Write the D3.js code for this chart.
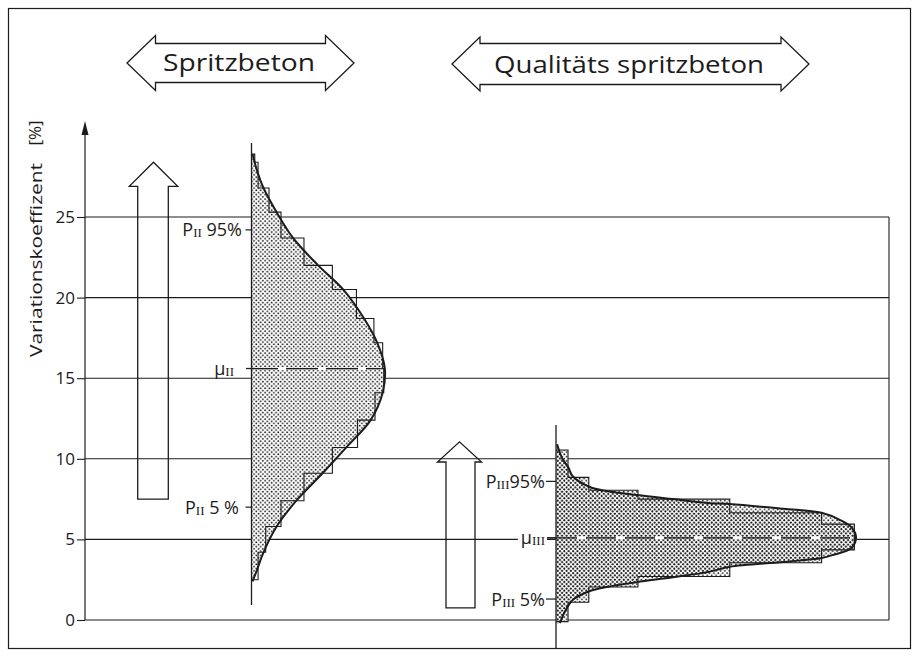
<!DOCTYPE html>
<html><head><meta charset="utf-8">
<script src="https://cdn.jsdelivr.net/npm/d3@7"></script>
<style>html,body{margin:0;padding:0;background:#fff;} svg{display:block;}</style>
</head><body>
<script>
// ---------- data ----------
const yTicks = [0, 5, 10, 15, 20, 25];
const headerLabels = ["Spritzbeton", "Qualitäts spritzbeton"];
const yTitle = "Variationskoeffizent";
const yUnit = "[%]";

// left histogram (Spritzbeton): class edges in % and relative frequency
const leftEdges = [2.5, 4.2, 5.8, 7.4, 9.1, 10.7, 12.4, 14.1, 15.6, 17.2, 18.7, 20.5, 22.0, 23.7, 25.3, 26.8, 28.4, 28.9];
const leftFreq  = [0.6, 1.3, 2.7, 4.8, 7.4, 9.7, 11.3, 12.1, 12.0, 11.2, 9.6, 7.4, 4.8, 2.7, 1.6, 0.6, 0.3];
const leftCurveV = [28.9, 27.9, 26.8, 25.3, 23.7, 22.0, 20.5, 18.7, 17.2, 15.6, 14.1, 12.4, 10.8, 9.1, 7.4, 5.8, 4.2, 3.1, 2.4];
const leftCurveF = [0.1, 0.5, 1.1, 2.3, 3.8, 6.1, 8.4, 10.3, 11.5, 12.2, 12.0, 10.9, 8.8, 6.5, 4.1, 2.3, 1.1, 0.5, 0.1];

// right histogram (Qualitätsspritzbeton)
const rightEdges = [-0.1, 1.1, 2.05, 2.7, 3.55, 4.35, 5.95, 6.65, 7.5, 8.05, 8.85, 10.55];
const rightFreq  = [1.1, 3.0, 7.5, 15.9, 24.3, 27.3, 24.3, 15.9, 7.5, 3.0, 1.1];
const rightCurveV = [10.9, 10.05, 9.5, 8.9, 8.25, 8.0, 7.75, 7.5, 7.25, 7.2, 6.9, 6.65, 6.2, 5.7, 5.1, 4.45, 4.05, 3.85, 3.6, 3.3, 3.0, 2.65, 2.35, 2.05, 1.8, 1.25, 0.5, -0.2];
const rightCurveF = [0.1, 0.55, 1.1, 1.55, 3.1, 4.65, 7.4, 10.7, 14.1, 15.9, 20.8, 24.3, 26.0, 27.1, 27.45, 27.0, 25.4, 24.3, 20.8, 15.9, 14.1, 10.7, 7.4, 4.65, 3.1, 1.55, 0.8, 0.35];

// quantile markers
const leftMarkV  = [24.2, 15.6, 7.0];
const rightMarkV = [8.6, 5.1, 1.3];
const leftMarkLabels  = [["P", "II", " 95%"], ["μ", "II", ""], ["P", "II", " 5 %"]];
const rightMarkLabels = [["P", "III", "95%"], ["μ", "III", ""], ["P", "III", " 5%"]];

// hollow arrows: [bottom, head base, tip] in %
const bigArrowV   = [7.5, 26.9, 28.4];
const smallArrowV = [0.75, 9.8, 11.05];

// ---------- layout ----------
const W = 915, H = 664;
const ink = "#1c1c1c";
const axisX = 85, gridRight = 889, baseL = 251.5, baseR = 556;
const font = "'Open Sans', 'DejaVu Sans', sans-serif";
const serif = "'Liberation Serif', 'DejaVu Serif', serif";

const svg = d3.select("body").append("svg").attr("width", W).attr("height", H);
const y = d3.scaleLinear().domain([0, 25]).range([620, 217]);
const fx = d3.scaleLinear().domain([0, 10]).range([0, 109.3]);

// dot pattern
const defs = svg.append("defs");
const pat = defs.append("pattern").attr("id", "dots").attr("patternUnits", "userSpaceOnUse")
  .attr("width", 4.4).attr("height", 4.4);
pat.append("circle").attr("cx", 1.1).attr("cy", 1.1).attr("r", 0.92).attr("fill", "#1a1a1a");
pat.append("circle").attr("cx", 3.3).attr("cy", 3.3).attr("r", 0.92).attr("fill", "#1a1a1a");

// frame
svg.append("rect").attr("x", 8.5).attr("y", 8.5).attr("width", 902).attr("height", 640)
  .attr("fill", "none").attr("stroke", ink).attr("stroke-width", 1.2);

// gridlines
const grid = svg.append("g");
grid.selectAll("line.g").data(yTicks).join("line")
  .attr("x1", axisX).attr("x2", gridRight)
  .attr("y1", d => y(d)).attr("y2", d => y(d))
  .attr("stroke", ink).attr("stroke-width", 1.1);
grid.append("line").attr("x1", gridRight).attr("x2", gridRight)
  .attr("y1", y(25)).attr("y2", y(0)).attr("stroke", ink).attr("stroke-width", 1.1);

// y axis
const ax = svg.append("g").attr("transform", `translate(${axisX},0)`)
  .call(d3.axisLeft(y).tickValues(yTicks).tickSize(8).tickPadding(2).tickFormat(d3.format("d")));
ax.select(".domain").remove();
ax.selectAll(".tick line").attr("stroke", ink).attr("stroke-width", 1.1);
ax.selectAll(".tick text").attr("font-family", font).attr("font-size", 17).attr("fill", ink);
svg.append("line").attr("x1", axisX).attr("x2", axisX).attr("y1", y(0)).attr("y2", 130)
  .attr("stroke", ink).attr("stroke-width", 1.2);
svg.append("path").attr("d", `M${axisX},121 L${axisX - 3.5},135 L${axisX + 3.5},135 Z`).attr("fill", ink);

// y title
svg.append("text").attr("transform", "translate(42,260) rotate(-90)")
  .attr("text-anchor", "middle").attr("font-family", font).attr("font-size", 17).attr("fill", ink)
  .attr("textLength", 194).attr("lengthAdjust", "spacingAndGlyphs").text(yTitle);
svg.append("text").attr("transform", "translate(41,133) rotate(-90)")
  .attr("text-anchor", "middle").attr("font-family", font).attr("font-size", 17).attr("fill", ink)
  .text(yUnit);

// header double arrows
function dblArrow(x1, x2, yc, bh, hh, hl) {
  return `M${x1},${yc} L${x1 + hl},${yc - hh} L${x1 + hl},${yc - bh} L${x2 - hl},${yc - bh} L${x2 - hl},${yc - hh} L${x2},${yc} L${x2 - hl},${yc + hh} L${x2 - hl},${yc + bh} L${x1 + hl},${yc + bh} L${x1 + hl},${yc + hh} Z`;
}
const headers = [
  {x1: 127, x2: 354, yc: 63, bh: 19.5, hh: 27.5, hl: 28.5, tx: 239, ty: 71, tl: 152},
  {x1: 452, x2: 809, yc: 64, bh: 20.5, hh: 27, hl: 28, tx: 629, ty: 73, tl: 270}
];
headers.forEach((h, i) => {
  svg.append("path").attr("d", dblArrow(h.x1, h.x2, h.yc, h.bh, h.hh, h.hl))
    .attr("fill", "none").attr("stroke", ink).attr("stroke-width", 1.3).attr("stroke-linejoin", "miter");
  svg.append("text").attr("x", h.tx).attr("y", h.ty).attr("text-anchor", "middle")
    .attr("font-family", font).attr("font-size", 23).attr("fill", ink)
    .attr("textLength", h.tl).attr("lengthAdjust", "spacingAndGlyphs").text(headerLabels[i]);
});

// histograms
function buildHist(edges, freq, cv, cf, base, unionFill) {
  const g = svg.append("g");
  const pts = cv.map((v, i) => ({v, f: cf[i]}));
  const area = d3.area().y(d => y(d.v)).x0(base).x1(d => base + fx(d.f)).curve(d3.curveCatmullRom);
  const line = d3.line().y(d => y(d.v)).x(d => base + fx(d.f)).curve(d3.curveCatmullRom);
  const bins = freq.map((f, i) => ({lo: edges[i], hi: edges[i + 1], f}));
  g.append("path").attr("d", area(pts)).attr("fill", "#fff");
  if (unionFill) {
    g.selectAll("rect.w").data(bins).join("rect")
      .attr("x", base).attr("width", d => fx(d.f))
      .attr("y", d => y(d.hi)).attr("height", d => y(d.lo) - y(d.hi)).attr("fill", "#fff");
    g.selectAll("rect.p").data(bins).join("rect")
      .attr("x", base).attr("width", d => fx(d.f))
      .attr("y", d => y(d.hi)).attr("height", d => y(d.lo) - y(d.hi)).attr("fill", "url(#dots)");
  }
  g.append("path").attr("d", area(pts)).attr("fill", "url(#dots)");
  let d = `M${base},${y(bins[0].lo)}`;
  bins.forEach(b => { d += ` L${base + fx(b.f)},${y(b.lo)} L${base + fx(b.f)},${y(b.hi)}`; });
  d += ` L${base},${y(bins[bins.length - 1].hi)}`;
  g.append("path").attr("d", d).attr("fill", "none").attr("stroke", ink).attr("stroke-width", 1.1);
  g.append("path").attr("d", line(pts)).attr("fill", "none").attr("stroke", ink).attr("stroke-width", 2);
  return g;
}
buildHist(leftEdges, leftFreq, leftCurveV, leftCurveF, baseL, false);
buildHist(rightEdges, rightFreq, rightCurveV, rightCurveF, baseR, true);

// baselines
svg.append("line").attr("x1", baseL).attr("x2", baseL).attr("y1", 143).attr("y2", 605)
  .attr("stroke", ink).attr("stroke-width", 1.3);
svg.append("line").attr("x1", baseR).attr("x2", baseR).attr("y1", 425).attr("y2", 648)
  .attr("stroke", ink).attr("stroke-width", 1.3);

// mean dashed lines (dark dashes, white gaps)
function meanLine(x1, x2, v, dash, gap) {
  svg.append("line").attr("x1", x1).attr("x2", x2).attr("y1", y(v)).attr("y2", y(v))
    .attr("stroke", "#fff").attr("stroke-width", 3)
    .attr("stroke-dasharray", `${gap},${dash}`).attr("stroke-dashoffset", -dash);
  svg.append("line").attr("x1", x1).attr("x2", x2).attr("y1", y(v)).attr("y2", y(v))
    .attr("stroke", ink).attr("stroke-width", 1.3).attr("stroke-dasharray", `${dash},${gap}`);
}
meanLine(246, baseL + fx(d3.max(leftCurveF)) - 4, leftMarkV[1], 32, 8);
meanLine(547, baseR + fx(d3.max(rightCurveF)) - 5, rightMarkV[1], 30, 9);

// marker labels
function markLabel(xEnd, v, parts, bg) {
  const t = svg.append("text").attr("x", xEnd).attr("y", y(v)).attr("dy", "0.36em")
    .attr("text-anchor", "end").attr("font-family", font).attr("font-size", 18).attr("fill", ink);
  t.append("tspan").text(parts[0]);
  t.append("tspan").attr("font-family", serif).attr("font-size", 13).attr("dy", 1).text(parts[1]);
  t.append("tspan").attr("dy", -1).text(parts[2]);
  if (bg) {
    const b = t.node().getBBox();
    svg.insert("rect", () => t.node()).attr("x", b.x - 3).attr("y", b.y).attr("width", b.width + 5)
      .attr("height", b.height).attr("fill", "#fff");
  }
}
const leftLabelEnds = [242, 234, 239];
leftMarkV.forEach((v, i) => {
  if (i !== 1) svg.append("line").attr("x1", baseL - 6).attr("x2", baseL).attr("y1", y(v)).attr("y2", y(v))
    .attr("stroke", ink).attr("stroke-width", 1.2);
  markLabel(leftLabelEnds[i], v, leftMarkLabels[i], false);
});
rightMarkV.forEach((v, i) => {
  svg.append("line").attr("x1", baseR - 10).attr("x2", baseR).attr("y1", y(v)).attr("y2", y(v))
    .attr("stroke", ink).attr("stroke-width", 1.2);
  markLabel(545, v, rightMarkLabels[i], i === 1);
});

// hollow up arrows
function upArrow(sx1, sx2, hx1, hx2, vals) {
  const [v0, v1, v2] = vals, tx = (hx1 + hx2) / 2;
  const d = `M${sx1},${y(v0)} L${sx1},${y(v1)} L${hx1},${y(v1)} L${tx},${y(v2)} L${hx2},${y(v1)} L${sx2},${y(v1)} L${sx2},${y(v0)} Z`;
  svg.append("path").attr("d", d).attr("fill", "none").attr("stroke", ink).attr("stroke-width", 1.3);
}
upArrow(137.7, 168.3, 129.3, 177.7, bigArrowV);
upArrow(446, 475, 437.5, 481.5, smallArrowV);
</script>
</body></html>
